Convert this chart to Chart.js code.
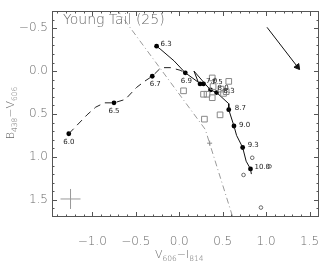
<!DOCTYPE html>
<html>
<head>
<meta charset="utf-8">
<script src="https://cdn.jsdelivr.net/npm/chart.js@4"></script>
<style>
  html, body { margin: 0; padding: 0; background: #fff; }
  #wrap { width: 330px; height: 265px; position: relative; }
</style>
</head>
<body>
<div id="wrap"><canvas id="cmd"></canvas></div>
<script>
// ================= DADOS =================
// pontos de idade (log t) com rótulo
const ageLabels = ['6.0', '6.3', '6.5', '6.7', '6.9', '7.0', '7.5', '8.0', '8.3', '8.7', '9.0', '9.3', '10.0'];
const ageX = [-1.27, -0.26, -0.75, -0.31, 0.07, 0.24, 0.28, 0.36, 0.43, 0.57, 0.63, 0.73, 0.82];
const ageY = [0.73, -0.29, 0.37, 0.06, 0.02, 0.15, 0.15, 0.22, 0.25, 0.45, 0.64, 0.89, 1.14];

// trilha sólida
const trackX = [-0.26, -0.21, -0.06, 0.07, 0.22, 0.17, 0.29, 0.36, 0.43, 0.57, 0.57, 0.63, 0.66, 0.71, 0.73, 0.77, 0.82, 0.83];
const trackY = [-0.29, -0.25, -0.12, 0.02, 0.13, 0.0, 0.14, 0.22, 0.25, 0.38, 0.45, 0.64, 0.75, 0.85, 0.89, 1.05, 1.14, 1.2];

// trilha tracejada
const dashX = [-1.27, -1.06, -0.96, -0.86, -0.75, -0.62, -0.49, -0.40, -0.31, -0.21, -0.10, 0.01, 0.07];
const dashY = [0.73, 0.51, 0.42, 0.37, 0.37, 0.33, 0.19, 0.12, 0.06, -0.04, -0.04, -0.01, 0.02];

// linha traço-ponto
const ddX = [-0.72, 0.30, 0.64];
const ddY = [-0.72, 0.68, 1.78];
const plusX = [0.35];
const plusY = [0.84];

// quadrados abertos
const sqX = [0.38, 0.57, 0.05, 0.28, 0.32, 0.38, 0.39, 0.48, 0.51, 0.54, 0.47, 0.29];
const sqY = [0.08, 0.12, 0.23, 0.27, 0.27, 0.31, 0.18, 0.21, 0.26, 0.24, 0.51, 0.56];

// círculos abertos
const circX = [0.84, 0.74, 1.04, 0.94];
const circY = [1.01, 1.21, 1.11, 1.59];

// vetor (seta)
const arrowX = [1.01, 1.36];
const arrowY = [-0.51, -0.05];

// barra de erro típica
const errX = [-1.25];
const errY = [1.49];

// eixos
const xTickValues = [-1.0, -0.5, 0.0, 0.5, 1.0, 1.5];
const xTickLabels = ['\u22121.0', '\u22120.5', '0.0', '0.5', '1.0', '1.5'];
const yTickValues = [-0.5, 0.0, 0.5, 1.0, 1.5];
const yTickLabels = ['\u22120.5', '0.0', '0.5', '1.0', '1.5'];
const titleText = 'Young Tail (25)';

// deslocamento dos rótulos [dx, dy, alinhamento]
const labelPos = [
  [0, 8, 'center'], [4, -2, 'left'], [0, 8, 'center'], [3, 8, 'center'], [1, 8, 'center'],
  [6, -3, 'left'], [8, -2, 'left'], [7, -2, 'left'], [7, -1, 'left'],
  [6, -2, 'left'], [5, -1, 'left'], [5, -2, 'left'], [4, -2, 'left']
];

function pts(xs, ys) {
  return xs.map((v, i) => ({ x: v, y: ys[i] }));
}

// ================= PLUGIN: moldura, ticks e textos =================
const FONT = '"DejaVu Sans", sans-serif';

function drawSub(ctx, parts, x, y, big, small) {
  // parts: [texto, subscrito?]
  let w = 0;
  parts.forEach(p => {
    ctx.font = '200 ' + (p[1] ? small : big) + 'px ' + FONT;
    w += ctx.measureText(p[0]).width;
  });
  let cx = x - w / 2;
  ctx.textAlign = 'left';
  ctx.textBaseline = 'alphabetic';
  parts.forEach(p => {
    ctx.font = '200 ' + (p[1] ? small : big) + 'px ' + FONT;
    ctx.fillText(p[0], cx, y + (p[1] ? 3 : 0));
    cx += ctx.measureText(p[0]).width;
  });
}

const framePlugin = {
  id: 'frame',
  afterDatasetsDraw(chart) {
    const { ctx, chartArea: a, scales: { x, y } } = chart;
    ctx.save();

    // rótulos dos pontos de idade
    const meta = chart.getDatasetMeta(chart.data.datasets.length - 1);
    ctx.fillStyle = '#222';
    ctx.font = '7px ' + FONT;
    ctx.textBaseline = 'middle';
    meta.data.forEach((el, i) => {
      const p = labelPos[i];
      ctx.textAlign = p[2];
      ctx.fillText(ageLabels[i], el.x + p[0], el.y + p[1]);
    });

    // moldura
    ctx.strokeStyle = '#555';
    ctx.lineWidth = 1;
    ctx.strokeRect(a.left + 0.5, a.top + 0.5, a.right - a.left - 1, a.bottom - a.top - 1);

    // ticks internos
    ctx.beginPath();
    for (let i = -14; i <= 16; i++) {
      const px = Math.round(x.getPixelForValue(i / 10)) + 0.5;
      if (px <= a.left + 1 || px >= a.right - 1) continue;
      const len = i % 5 === 0 ? 5 : 2.5;
      ctx.moveTo(px, a.bottom); ctx.lineTo(px, a.bottom - len);
      ctx.moveTo(px, a.top); ctx.lineTo(px, a.top + len);
    }
    for (let i = -7; i <= 17; i++) {
      const py = Math.round(y.getPixelForValue(i / 10)) + 0.5;
      if (py <= a.top + 1 || py >= a.bottom - 1) continue;
      const len = i % 5 === 0 ? 5 : 2.5;
      ctx.moveTo(a.left, py); ctx.lineTo(a.left + len, py);
      ctx.moveTo(a.right, py); ctx.lineTo(a.right - len, py);
    }
    ctx.stroke();

    // rótulos dos ticks
    ctx.fillStyle = '#6a6a6a';
    ctx.font = '200 12px ' + FONT;
    ctx.textBaseline = 'middle';
    ctx.textAlign = 'center';
    xTickValues.forEach((v, i) => {
      ctx.fillText(xTickLabels[i], x.getPixelForValue(v), a.bottom + 25);
    });
    ctx.textAlign = 'right';
    yTickValues.forEach((v, i) => {
      ctx.fillText(yTickLabels[i], a.left - 4, y.getPixelForValue(v));
    });

    // título interno
    ctx.textAlign = 'left';
    ctx.font = '200 14px ' + FONT;
    ctx.fillText(titleText, 63, 20);

    // títulos dos eixos
    drawSub(ctx, [['V'], ['606', 1], ['\u2212'], ['I'], ['814', 1]], x.getPixelForValue(0), 258, 11, 7.5);
    ctx.save();
    ctx.translate(14, 113);
    ctx.rotate(-Math.PI / 2);
    drawSub(ctx, [['B'], ['438', 1], ['\u2212'], ['V'], ['606', 1]], 0, 0, 11, 7.5);
    ctx.restore();

    ctx.restore();
  }
};

// ================= GRÁFICO =================
const ctx = document.getElementById('cmd').getContext('2d');
new Chart(ctx, {
  type: 'scatter',
  data: {
    datasets: [
      {
        data: pts(ddX, ddY), showLine: true, pointRadius: 0,
        borderColor: '#9a9a9a', borderWidth: 1, borderDash: [6, 3, 1, 3]
      },
      {
        data: pts(plusX, plusY), pointStyle: 'cross', pointRadius: 2.5,
        borderColor: '#888', borderWidth: 1
      },
      {
        data: pts(errX, errY), pointStyle: 'cross', pointRadius: 10,
        borderColor: '#999', borderWidth: 1
      },
      {
        data: pts(sqX, sqY), pointStyle: 'rect', pointRadius: 4,
        borderColor: '#888', backgroundColor: 'rgba(0,0,0,0)', borderWidth: 1
      },
      {
        data: pts(circX, circY), pointStyle: 'circle', pointRadius: 1.8,
        borderColor: '#666', backgroundColor: 'rgba(0,0,0,0)', borderWidth: 1
      },
      {
        data: pts(dashX, dashY), showLine: true, pointRadius: 0,
        borderColor: '#222', borderWidth: 1, borderDash: [7, 5]
      },
      {
        data: pts(trackX, trackY), showLine: true, pointRadius: 0,
        borderColor: '#111', borderWidth: 1
      },
      {
        data: pts(arrowX, arrowY), showLine: true,
        pointRadius: [0, 3.5], pointStyle: 'triangle', rotation: 142,
        borderColor: '#111', backgroundColor: '#111', pointBackgroundColor: '#111', borderWidth: 1
      },
      {
        data: pts(ageX, ageY), pointStyle: 'circle', pointRadius: 2.4,
        borderColor: '#000', backgroundColor: '#000', borderWidth: 0
      }
    ]
  },
  options: {
    responsive: true,
    maintainAspectRatio: false,
    animation: false,
    events: [],
    layout: { padding: { left: 52, right: 1, top: 2, bottom: 48 } },
    plugins: { legend: { display: false }, tooltip: { enabled: false } },
    scales: {
      x: { type: 'linear', min: -1.463, max: 1.608, display: false },
      y: { type: 'linear', min: -0.7, max: 1.7, reverse: true, display: false }
    }
  },
  plugins: [framePlugin]
});
</script>
</body>
</html>
